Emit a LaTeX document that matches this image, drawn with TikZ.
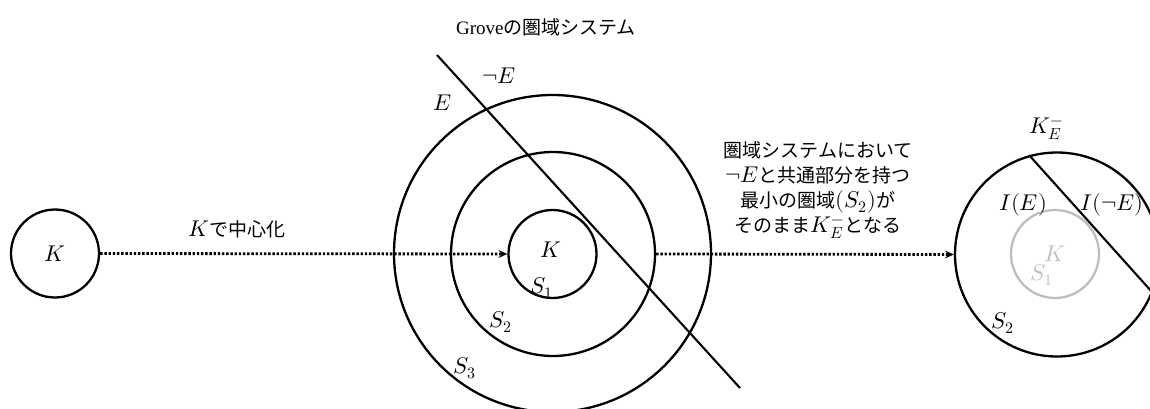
\documentclass[tikz,border=0pt]{standalone}
\usepackage{fontspec}
\usepackage{unicode-math}
\setmainfont{Liberation Serif}
\setmathfont{Latin Modern Math}[Scale=1.2]
\newfontfamily\jp{Noto Sans CJK JP}
\usetikzlibrary{arrows.meta}
\definecolor{lightgr}{RGB}{190,190,190}
\tikzset{
  ring/.style={draw, circle, line width=2.3pt, inner sep=0pt},
  txt/.style={inner sep=0pt, font=\fontsize{19}{25}\selectfont, align=center},
  dotarrow/.style={line width=2.8pt, dash pattern=on 2.4pt off 1.8pt, -{Stealth[length=9pt,width=8pt,inset=3.5pt]}},
  cutline/.style={line width=2.1pt}
}
\begin{document}
\begin{tikzpicture}[x=1pt,y=-1pt]
\useasboundingbox (0,0) rectangle (1150,409);
\clip (0,0) rectangle (1150,409);
% left circle
\node[ring, minimum size=88pt] (k0) at (55,253.5) {};
\node[txt] (k0t) at (55,253.5) {$K$};
% central system
\node[ring, minimum size=88pt] (s1) at (552.5,254) {};
\node[ring, minimum size=204pt] (s2) at (553,254) {};
\node[ring, minimum size=317pt] (s3) at (552.5,253.5) {};
\coordinate (e1) at (437,55);
\coordinate (e2) at (740,388);
\draw[cutline] (e1) -- (e2);
% right
\node[ring, minimum size=204pt] (r2) at (1057,254.5) {};
\node[ring, draw=lightgr, minimum size=88pt] (r1) at (1055,254) {};
\coordinate (c1) at (1029,155);
\coordinate (c2) at (1152,292);
\draw[cutline] (c1) -- (c2);
% arrows
\draw[dotarrow] (k0.east) -- (s1.west);
\draw[dotarrow] (s2.east) -- (r2.west);
% texts
\node[txt] (title) at (546,27) {Grove{\jp の圏域システム}};
\node[txt] (negE) at (499,76) {$\neg E$};
\node[txt] (E) at (443,103) {$E$};
\node[txt] (cent) at (237,229) {$K${\jp で中心化}};
\node[txt] (sK) at (551,250) {$K$};
\node[txt] (sS1) at (542,288) {$S_1$};
\node[txt] (sS2) at (501,322) {$S_2$};
\node[txt] (sS3) at (465,368) {$S_3$};
\node[txt] (expl) at (818,190) {{\jp 圏域システムにおいて}\\$\neg E${\jp と共通部分を持つ}\\{\jp 最小の圏域}$(S_2)${\jp が}\\{\jp そのまま}$K_E^-${\jp となる}};
\node[txt] (KE) at (1046,129) {$K_E^-$};
\node[txt] (IE) at (1023,205) {$I(E)$};
\node[txt] (InE) at (1112,205) {$I(\neg E)$};
\node[txt, text=lightgr] (rK) at (1055,254) {$K$};
\node[txt, text=lightgr] (rS1) at (1042,275) {$S_1$};
\node[txt] (rS2) at (1003,323) {$S_2$};
\end{tikzpicture}
\end{document}
